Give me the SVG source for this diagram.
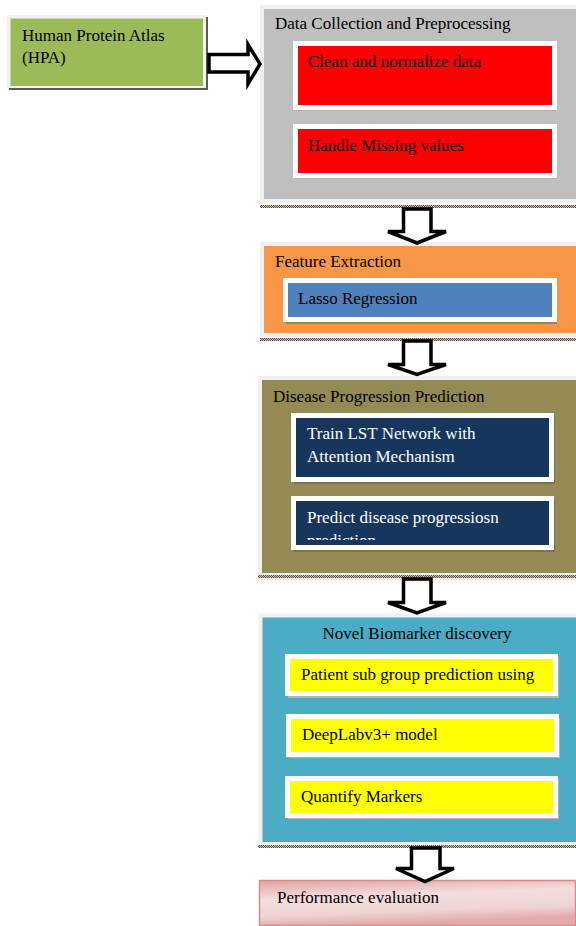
<svg xmlns="http://www.w3.org/2000/svg" width="576" height="926" viewBox="0 0 576 926">
  <defs>
    <pattern id="chk" width="2" height="2" patternUnits="userSpaceOnUse">
      <rect width="2" height="2" fill="#cbc2b8"/>
      <rect width="1" height="1" fill="#5e4b3c"/>
      <rect x="1" y="1" width="1" height="1" fill="#5e4b3c"/>
    </pattern>
    <linearGradient id="pink" x1="0" y1="0" x2="0.25" y2="1">
      <stop offset="0" stop-color="#dfa3a2"/>
      <stop offset="0.4" stop-color="#f3dedd"/>
      <stop offset="0.75" stop-color="#efd4d3"/>
      <stop offset="1" stop-color="#e2aaa9"/>
    </linearGradient>
    <clipPath id="clipPred">
      <rect x="296" y="501" width="253" height="39"/>
    </clipPath>
  </defs>
  <style>
    text { font-family: "Liberation Serif", "Times New Roman", serif; font-size: 17px; fill: #000; }
    .wt { fill: #ffffff; }
    .main { stroke: #f0f0f0; stroke-width: 4; }
    .item { stroke: #ffffff; stroke-width: 5; }
    .ishadow { fill: #b8b2ab; }
    .shadow { fill: url(#chk); }
    .arrow { fill: #ffffff; stroke: #000; stroke-width: 3.5; stroke-linejoin: miter; }
  </style>
  <rect width="576" height="926" fill="#ffffff"/>

  <g id="hpa">
    <rect x="9" y="17" width="199" height="73" fill="#5a5a5a"/>
    <rect x="7" y="15" width="199" height="73" fill="#f2f2f2"/>
    <rect x="10.5" y="18.5" width="192.5" height="67.5" fill="#9bbb59"/>
    <text x="22" y="41">Human Protein Atlas</text>
    <text x="22" y="63">(HPA)</text>
  </g>

  <g id="data-collection">
    <rect x="262" y="7" width="316" height="194" fill="#bfbfbf" class="main"/>
    <rect x="260" y="205" width="316" height="3" class="shadow"/>
    <text x="275" y="29">Data Collection and Preprocessing</text>
    <g id="clean">
      <rect x="296" y="44" width="261" height="67" class="ishadow"/>
      <rect x="295.5" y="43.5" width="259" height="64" fill="#ff0000" class="item"/>
      <text x="308" y="67">Clean and normalize data</text>
    </g>
    <g id="missing">
      <rect x="296" y="127" width="261" height="52" class="ishadow"/>
      <rect x="295.5" y="126.5" width="259" height="49" fill="#ff0000" class="item"/>
      <text x="308" y="151">Handle Missing values</text>
    </g>
  </g>

  <g id="feature-extraction">
    <rect x="262" y="244" width="316" height="91" fill="#f79646" class="main"/>
    <rect x="260" y="338" width="316" height="3" class="shadow"/>
    <text x="275" y="267">Feature Extraction</text>
    <g id="lasso">
      <rect x="286" y="282" width="271" height="42" fill="#8f8a50"/>
      <rect x="285.5" y="280.5" width="269" height="39" fill="#4f81bd" class="item"/>
      <text x="298" y="304">Lasso Regression</text>
    </g>
  </g>

  <g id="disease-progression">
    <rect x="260" y="378" width="318" height="197" fill="#948a54" class="main"/>
    <rect x="258" y="575" width="318" height="3" class="shadow"/>
    <text x="273" y="402">Disease Progression Prediction</text>
    <g id="train">
      <rect x="294" y="416" width="261" height="68" fill="#7d7448"/>
      <rect x="293.5" y="415.5" width="258" height="64" fill="#17365d" class="item"/>
      <text x="307" y="439" class="wt">Train LST Network with</text>
      <text x="307" y="462" class="wt">Attention Mechanism</text>
    </g>
    <g id="predict">
      <rect x="294" y="500" width="261" height="52" fill="#7d7448"/>
      <rect x="293.5" y="498.5" width="258" height="49" fill="#17365d" class="item"/>
      <text x="307" y="523" class="wt">Predict disease progressiosn</text>
      <text x="307" y="546" class="wt" clip-path="url(#clipPred)">prediction</text>
    </g>
  </g>

  <g id="biomarker">
    <rect x="260.5" y="615.5" width="317.5" height="228.5" fill="#4bacc6" class="main"/>
    <rect x="258" y="845" width="318" height="3" class="shadow"/>
    <text x="417" y="639" text-anchor="middle">Novel Biomarker discovery</text>
    <g id="subgroup">
      <rect x="288" y="657" width="271" height="41" class="ishadow"/>
      <rect x="287.5" y="656.5" width="268" height="37" fill="#ffff00" class="item"/>
      <text x="301" y="680">Patient sub group prediction using</text>
    </g>
    <g id="deeplab">
      <rect x="289" y="718" width="271" height="40" class="ishadow"/>
      <rect x="288.5" y="716.5" width="268" height="38" fill="#ffff00" class="item"/>
      <text x="302" y="740">DeepLabv3+ model</text>
    </g>
    <g id="quantify">
      <rect x="288" y="779" width="271" height="40" class="ishadow"/>
      <rect x="287.5" y="778.5" width="268" height="37" fill="#ffff00" class="item"/>
      <text x="301" y="802">Quantify Markers</text>
    </g>
  </g>

  <g id="performance">
    <rect x="259.5" y="880.5" width="316" height="45" fill="url(#pink)" stroke="#d48d8c" stroke-width="1.5"/>
    <text x="277" y="903">Performance evaluation</text>
  </g>

  <g id="connectors">
    <path class="arrow" d="M209,54.5 H248 V44.5 L260,64 L248,84 V72 H209 Z"/>
    <path class="arrow" d="M403.5,209 H431 V231.5 H446 L417,243 L388,231.5 H403.5 Z"/>
    <path class="arrow" d="M403.5,341 H431 V364.5 H446 L417,374.5 L388,364.5 H403.5 Z"/>
    <path class="arrow" d="M403.5,579 H431 V602.5 H446 L417,613 L388,602.5 H403.5 Z"/>
    <path class="arrow" d="M411.5,848 H440 V868.5 H454 L425,881.5 L396,868.5 H411.5 Z"/>
  </g>
</svg>
